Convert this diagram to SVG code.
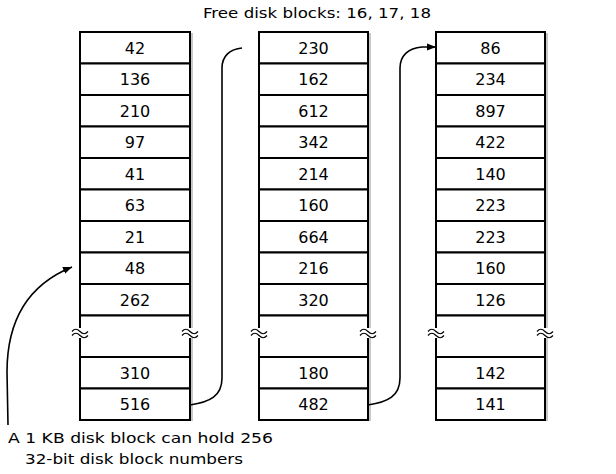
<svg xmlns="http://www.w3.org/2000/svg" width="616" height="474" viewBox="0 0 616 474">
<defs>
<style>
.cell{fill:#fff;stroke:#000;stroke-width:2}
.shade{fill:none;stroke:#c8c8c8;stroke-width:2}
.num{font-family:"DejaVu Sans",Verdana,sans-serif;font-size:16px;fill:#000;text-anchor:middle}
.lbl{font-family:"DejaVu Sans",Verdana,sans-serif;font-size:14px;fill:#000}
.conn{fill:none;stroke:#000;stroke-width:1.6}
.brk{fill:none;stroke:#000;stroke-width:1.2}
</style>
<marker id="ah" viewBox="0 0 10 10" refX="10" refY="5" markerWidth="9" markerHeight="9" markerUnits="userSpaceOnUse" orient="auto">
<path d="M0,1 L10,5 L0,9 Z" fill="#000"/>
</marker>
<g id="tilde">
<rect x="-8" y="-5" width="16" height="10" fill="#fff"/>
<path class="brk" d="M-8,-1.5 c2.5,-3 5,-3 8,0 s5.5,3 8,0 M-8,2.5 c2.5,-3 5,-3 8,0 s5.5,3 8,0"/>
</g>
</defs>
<rect width="616" height="474" fill="#fff"/>
<text class="lbl" x="203" y="18" textLength="228" lengthAdjust="spacingAndGlyphs">Free disk blocks: 16, 17, 18</text>

<g id="block1">
<line class="shade" x1="192" y1="33" x2="192" y2="421"/>
<rect class="cell" x="80" y="32" width="110" height="31.5"/>
<rect class="cell" x="80" y="63.5" width="110" height="31.5"/>
<rect class="cell" x="80" y="95" width="110" height="31.5"/>
<rect class="cell" x="80" y="126.5" width="110" height="31.5"/>
<rect class="cell" x="80" y="158" width="110" height="31.5"/>
<rect class="cell" x="80" y="189.5" width="110" height="31.5"/>
<rect class="cell" x="80" y="221" width="110" height="31.5"/>
<rect class="cell" x="80" y="252.5" width="110" height="31.5"/>
<rect class="cell" x="80" y="284" width="110" height="31.5"/>
<rect class="cell" x="80" y="315.5" width="110" height="41.5"/>
<rect class="cell" x="80" y="357" width="110" height="31.5"/>
<rect class="cell" x="80" y="388.5" width="110" height="31.5"/>
<text class="num" x="135" y="53.5">42</text>
<text class="num" x="135" y="85">136</text>
<text class="num" x="135" y="116.5">210</text>
<text class="num" x="135" y="148">97</text>
<text class="num" x="135" y="179.5">41</text>
<text class="num" x="135" y="211">63</text>
<text class="num" x="135" y="242.5">21</text>
<text class="num" x="135" y="274">48</text>
<text class="num" x="135" y="305.5">262</text>
<text class="num" x="135" y="378.5">310</text>
<text class="num" x="135" y="410">516</text>
<use href="#tilde" x="80" y="333"/>
<use href="#tilde" x="190" y="333"/>
</g>

<g id="block2">
<line class="shade" x1="370" y1="33" x2="370" y2="421"/>
<rect class="cell" x="259" y="32" width="109" height="31.5"/>
<rect class="cell" x="259" y="63.5" width="109" height="31.5"/>
<rect class="cell" x="259" y="95" width="109" height="31.5"/>
<rect class="cell" x="259" y="126.5" width="109" height="31.5"/>
<rect class="cell" x="259" y="158" width="109" height="31.5"/>
<rect class="cell" x="259" y="189.5" width="109" height="31.5"/>
<rect class="cell" x="259" y="221" width="109" height="31.5"/>
<rect class="cell" x="259" y="252.5" width="109" height="31.5"/>
<rect class="cell" x="259" y="284" width="109" height="31.5"/>
<rect class="cell" x="259" y="315.5" width="109" height="41.5"/>
<rect class="cell" x="259" y="357" width="109" height="31.5"/>
<rect class="cell" x="259" y="388.5" width="109" height="31.5"/>
<text class="num" x="313.5" y="53.5">230</text>
<text class="num" x="313.5" y="85">162</text>
<text class="num" x="313.5" y="116.5">612</text>
<text class="num" x="313.5" y="148">342</text>
<text class="num" x="313.5" y="179.5">214</text>
<text class="num" x="313.5" y="211">160</text>
<text class="num" x="313.5" y="242.5">664</text>
<text class="num" x="313.5" y="274">216</text>
<text class="num" x="313.5" y="305.5">320</text>
<text class="num" x="313.5" y="378.5">180</text>
<text class="num" x="313.5" y="410">482</text>
<use href="#tilde" x="259" y="333"/>
<use href="#tilde" x="368" y="333"/>
</g>

<g id="block3">
<line class="shade" x1="547" y1="33" x2="547" y2="421"/>
<rect class="cell" x="436" y="32" width="109" height="31.5"/>
<rect class="cell" x="436" y="63.5" width="109" height="31.5"/>
<rect class="cell" x="436" y="95" width="109" height="31.5"/>
<rect class="cell" x="436" y="126.5" width="109" height="31.5"/>
<rect class="cell" x="436" y="158" width="109" height="31.5"/>
<rect class="cell" x="436" y="189.5" width="109" height="31.5"/>
<rect class="cell" x="436" y="221" width="109" height="31.5"/>
<rect class="cell" x="436" y="252.5" width="109" height="31.5"/>
<rect class="cell" x="436" y="284" width="109" height="31.5"/>
<rect class="cell" x="436" y="315.5" width="109" height="41.5"/>
<rect class="cell" x="436" y="357" width="109" height="31.5"/>
<rect class="cell" x="436" y="388.5" width="109" height="31.5"/>
<text class="num" x="490.5" y="53.5">86</text>
<text class="num" x="490.5" y="85">234</text>
<text class="num" x="490.5" y="116.5">897</text>
<text class="num" x="490.5" y="148">422</text>
<text class="num" x="490.5" y="179.5">140</text>
<text class="num" x="490.5" y="211">223</text>
<text class="num" x="490.5" y="242.5">223</text>
<text class="num" x="490.5" y="274">160</text>
<text class="num" x="490.5" y="305.5">126</text>
<text class="num" x="490.5" y="378.5">142</text>
<text class="num" x="490.5" y="410">141</text>
<use href="#tilde" x="436" y="333"/>
<use href="#tilde" x="545" y="333"/>
</g>

<g id="connectors">
<path class="conn" d="M190,405 C210,402 222,396 222,378 L222,68 C222,56 230,49 242,48"/>
<path class="conn" d="M368,405 C388,402 400,396 400,378 L400,68 C400,56 408,48 422,47 L436,47" marker-end="url(#ah)"/>
<path class="conn" d="M8,425 L7,372 C7,318 30,284 72,267" marker-end="url(#ah)"/>
</g>

<g id="caption">
<text class="lbl" x="8" y="443" textLength="265" lengthAdjust="spacingAndGlyphs">A 1 KB disk block can hold 256</text>
<text class="lbl" x="25" y="464" textLength="218" lengthAdjust="spacingAndGlyphs">32-bit disk block numbers</text>
</g>
</svg>
